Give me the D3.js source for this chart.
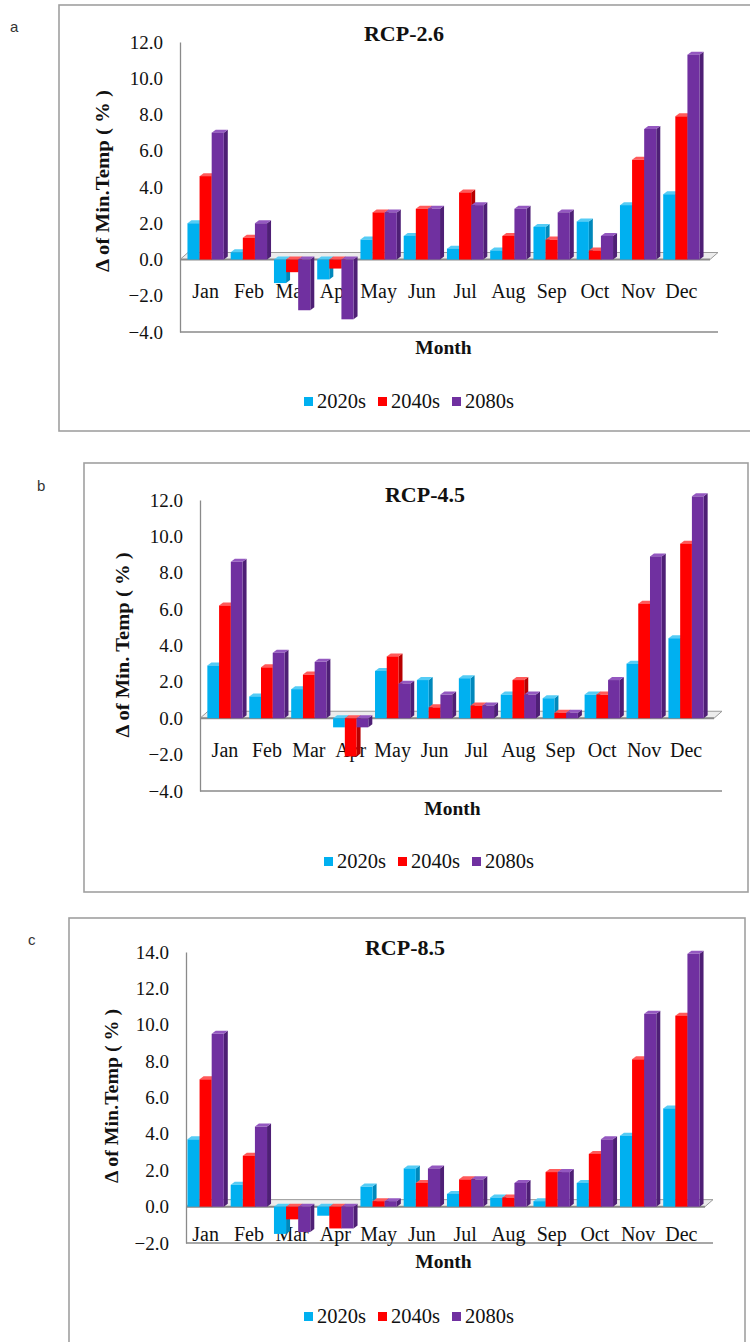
<!DOCTYPE html>
<html>
<head>
<meta charset="utf-8">
<script src="https://cdn.jsdelivr.net/npm/d3@7"></script>
<style>
  body { margin: 0; background: #fff; }
  svg text { font-family: "Liberation Serif", "Times New Roman", serif; fill: #111; }
  svg text.letter { font-family: "Liberation Sans", "DejaVu Sans", sans-serif; font-size: 15px; fill: #333; }
</style>
</head>
<body>
<svg id="chart" width="750" height="1342"></svg>
<script>
/******** data ********/
const months = ["Jan","Feb","Mar","Apr","May","Jun","Jul","Aug","Sep","Oct","Nov","Dec"];
const seriesNames = ["2020s","2040s","2080s"];
const seriesColors = ["#00B0F0","#FF0000","#7030A0"];
const sideColors   = ["#0088bb","#b80000","#4e1f75"];
const topColors    = ["#55ccf5","#ff5a5a","#9458c0"];

// RCP-2.6
const rcp26_2020s = [2.0, 0.4, -1.3, -1.1, 1.1, 1.3, 0.6, 0.5, 1.8, 2.1, 3.0, 3.6];
const rcp26_2040s = [4.6, 1.2, -0.7, -0.5, 2.6, 2.8, 3.7, 1.3, 1.1, 0.5, 5.5, 7.9];
const rcp26_2080s = [7.0, 2.0, -2.8, -3.3, 2.6, 2.8, 3.0, 2.8, 2.6, 1.3, 7.2, 11.3];
// RCP-4.5
const rcp45_2020s = [2.9, 1.2, 1.6, -0.5, 2.6, 2.1, 2.2, 1.3, 1.1, 1.3, 3.0, 4.4];
const rcp45_2040s = [6.2, 2.8, 2.4, -2.1, 3.4, 0.6, 0.7, 2.1, 0.3, 1.3, 6.3, 9.6];
const rcp45_2080s = [8.6, 3.6, 3.1, -0.5, 1.9, 1.3, 0.7, 1.3, 0.3, 2.1, 8.9, 12.2];
// RCP-8.5
const rcp85_2020s = [3.7, 1.2, -1.5, -0.5, 1.1, 2.1, 0.7, 0.5, 0.3, 1.3, 3.9, 5.4];
const rcp85_2040s = [7.0, 2.8, -0.7, -1.2, 0.3, 1.3, 1.5, 0.5, 1.9, 2.9, 8.1, 10.5];
const rcp85_2080s = [9.5, 4.4, -1.4, -1.2, 0.3, 2.1, 1.5, 1.3, 1.9, 3.7, 10.6, 13.9];

// tick values
const ticksAB = [-4, -2, 0, 2, 4, 6, 8, 10, 12];
const ticksC  = [-2, 0, 2, 4, 6, 8, 10, 12, 14];

/******** layout of the three panels ********/
const panels = [
  { letter: "a", title: "RCP-2.6", yTitle: "\u0394 of Min.Temp ( % )",
    series: [rcp26_2020s, rcp26_2040s, rcp26_2080s], ticks: ticksAB,
    box: { x: 59, y: 5, x2: 760, y2: 431 }, letterPos: [10, 32],
    x0: 183, x1: 702, axisX: 180, yTop: 42, yBot: 332, axisRight: 718,
    titlePos: [404, 41], labelDy: 38, monthY: 354, legendY: 408, legendX: 304,
    yTitle_: [109, 181, 182] },
  { letter: "b", title: "RCP-4.5", yTitle: "\u0394 of Min. Temp ( % )",
    series: [rcp45_2020s, rcp45_2040s, rcp45_2080s], ticks: ticksAB,
    box: { x: 84, y: 463, x2: 748, y2: 892 }, letterPos: [37, 491],
    x0: 203, x1: 706, axisX: 200, yTop: 500, yBot: 791, axisRight: 722,
    titlePos: [425, 502], labelDy: 39, monthY: 815, legendY: 868, legendX: 324,
    yTitle_: [129, 645, 185] },
  { letter: "c", title: "RCP-8.5", yTitle: "\u0394 of Min.Temp ( % )",
    series: [rcp85_2020s, rcp85_2040s, rcp85_2080s], ticks: ticksC,
    box: { x: 69, y: 918, x2: 745, y2: 1360 }, letterPos: [28, 945],
    x0: 183, x1: 702, axisX: 186, yTop: 952, yBot: 1243, axisRight: 713,
    titlePos: [405, 955], labelDy: 34, monthY: 1268, legendY: 1323, legendX: 304,
    yTitle_: [118, 1096, 174] }
];

const svg = d3.select("#chart");
const serif = '"Liberation Serif", "Times New Roman", serif';
const depthX = 4, depthY = 3;      // bar 3D offset
const floorDX = 8, floorDY = 7;    // floor depth

function drawPanel(p) {
  const g = svg.append("g");

  // panel frame
  g.append("rect")
    .attr("x", p.box.x).attr("y", p.box.y)
    .attr("width", p.box.x2 - p.box.x).attr("height", p.box.y2 - p.box.y)
    .attr("fill", "none").attr("stroke", "#a0a0a0").attr("stroke-width", 1.6);

  g.append("text").attr("class", "letter")
    .attr("x", p.letterPos[0]).attr("y", p.letterPos[1]).text(p.letter);

  const y = d3.scaleLinear()
    .domain([p.ticks[0], p.ticks[p.ticks.length - 1]])
    .range([p.yBot, p.yTop]);
  const x = d3.scaleBand().domain(months).range([p.x0, p.x1]).paddingInner(0);

  // y axis
  const yAxis = d3.axisLeft(y).tickValues(p.ticks)
    .tickFormat(d3.format(".1f")).tickSize(0).tickPadding(17);
  const ag = g.append("g").attr("transform", `translate(${p.axisX},0)`).call(yAxis);
  ag.attr("font-family", null);
  ag.select(".domain").attr("stroke", "#8a8a8a").attr("stroke-width", 1.3);
  ag.selectAll("text").attr("font-size", 19)
    .style("font-family", serif).attr("fill", "#1a1a1a");

  // bottom axis line
  g.append("line")
    .attr("x1", p.axisX).attr("x2", p.axisRight)
    .attr("y1", y(p.ticks[0])).attr("y2", y(p.ticks[0]))
    .attr("stroke", "#8a8a8a").attr("stroke-width", 1.3);

  // floor at zero
  const y0 = y(0);
  const fx0 = p.axisX, fx1 = p.axisRight - floorDX;
  g.append("path")
    .attr("d", `M${fx0},${y0}L${fx1},${y0}L${fx1 + floorDX},${y0 - floorDY}L${fx0 + floorDX},${y0 - floorDY}Z`)
    .attr("fill", "#ececec").attr("stroke", "#9a9a9a").attr("stroke-width", 1);
  g.append("line")
    .attr("x1", fx0).attr("x2", fx1).attr("y1", y0).attr("y2", y0)
    .attr("stroke", "#8a8a8a").attr("stroke-width", 2);

  // month labels
  g.selectAll("text.month").data(months).enter().append("text")
    .attr("class", "month")
    .attr("x", d => x(d) + x.bandwidth() / 2 + 1)
    .attr("y", y0 + p.labelDy)
    .attr("text-anchor", "middle")
    .attr("font-size", 20)
    .style("font-family", serif)
    .text(d => d);

  // 3D bars
  const bw = x.bandwidth() * 0.28;
  const barsG = g.append("g");
  months.forEach((m, i) => {
    const gx = x(m) + (x.bandwidth() - 3 * bw) / 2 + 1;
    p.series.forEach((vals, s) => {
      const v = vals[i];
      const bx = gx + s * bw;
      const top = Math.min(y(v), y0), bot = Math.max(y(v), y0);
      // side face
      barsG.append("path")
        .attr("d", `M${bx + bw},${top}L${bx + bw + depthX},${top - depthY}L${bx + bw + depthX},${bot - depthY}L${bx + bw},${bot}Z`)
        .attr("fill", sideColors[s]);
      // top face
      barsG.append("path")
        .attr("d", `M${bx},${top}L${bx + depthX},${top - depthY}L${bx + bw + depthX},${top - depthY}L${bx + bw},${top}Z`)
        .attr("fill", topColors[s]);
      // front face
      barsG.append("rect")
        .attr("x", bx).attr("y", top)
        .attr("width", bw).attr("height", Math.max(bot - top, 0.5))
        .attr("fill", seriesColors[s]);
    });
  });

  // chart title
  g.append("text")
    .attr("x", p.titlePos[0]).attr("y", p.titlePos[1])
    .attr("text-anchor", "middle").attr("font-weight", "bold").attr("font-size", 22)
    .style("font-family", serif)
    .text(p.title);

  // y title
  const [tx, tcy, tlen] = p.yTitle_;
  g.append("text")
    .attr("transform", `translate(${tx},${tcy}) rotate(-90)`)
    .attr("text-anchor", "middle").attr("font-weight", "bold").attr("font-size", 18)
    .attr("textLength", tlen).attr("lengthAdjust", "spacingAndGlyphs")
    .style("font-family", serif)
    .text(p.yTitle);

  // x title
  g.append("text")
    .attr("x", (p.x0 + p.x1) / 2 + (p.letter === "b" ? -2 : 1)).attr("y", p.monthY)
    .attr("text-anchor", "middle").attr("font-weight", "bold").attr("font-size", 19.5)
    .style("font-family", serif)
    .text("Month");

  // legend
  seriesNames.forEach((name, s) => {
    const lx = p.legendX + s * 74;
    g.append("rect")
      .attr("x", lx).attr("y", p.legendY - 11).attr("width", 9).attr("height", 9)
      .attr("fill", seriesColors[s]);
    g.append("text")
      .attr("x", lx + 13).attr("y", p.legendY)
      .attr("font-size", 20.5)
      .style("font-family", serif)
      .text(name);
  });
}

panels.forEach(drawPanel);
</script>
</body>
</html>
